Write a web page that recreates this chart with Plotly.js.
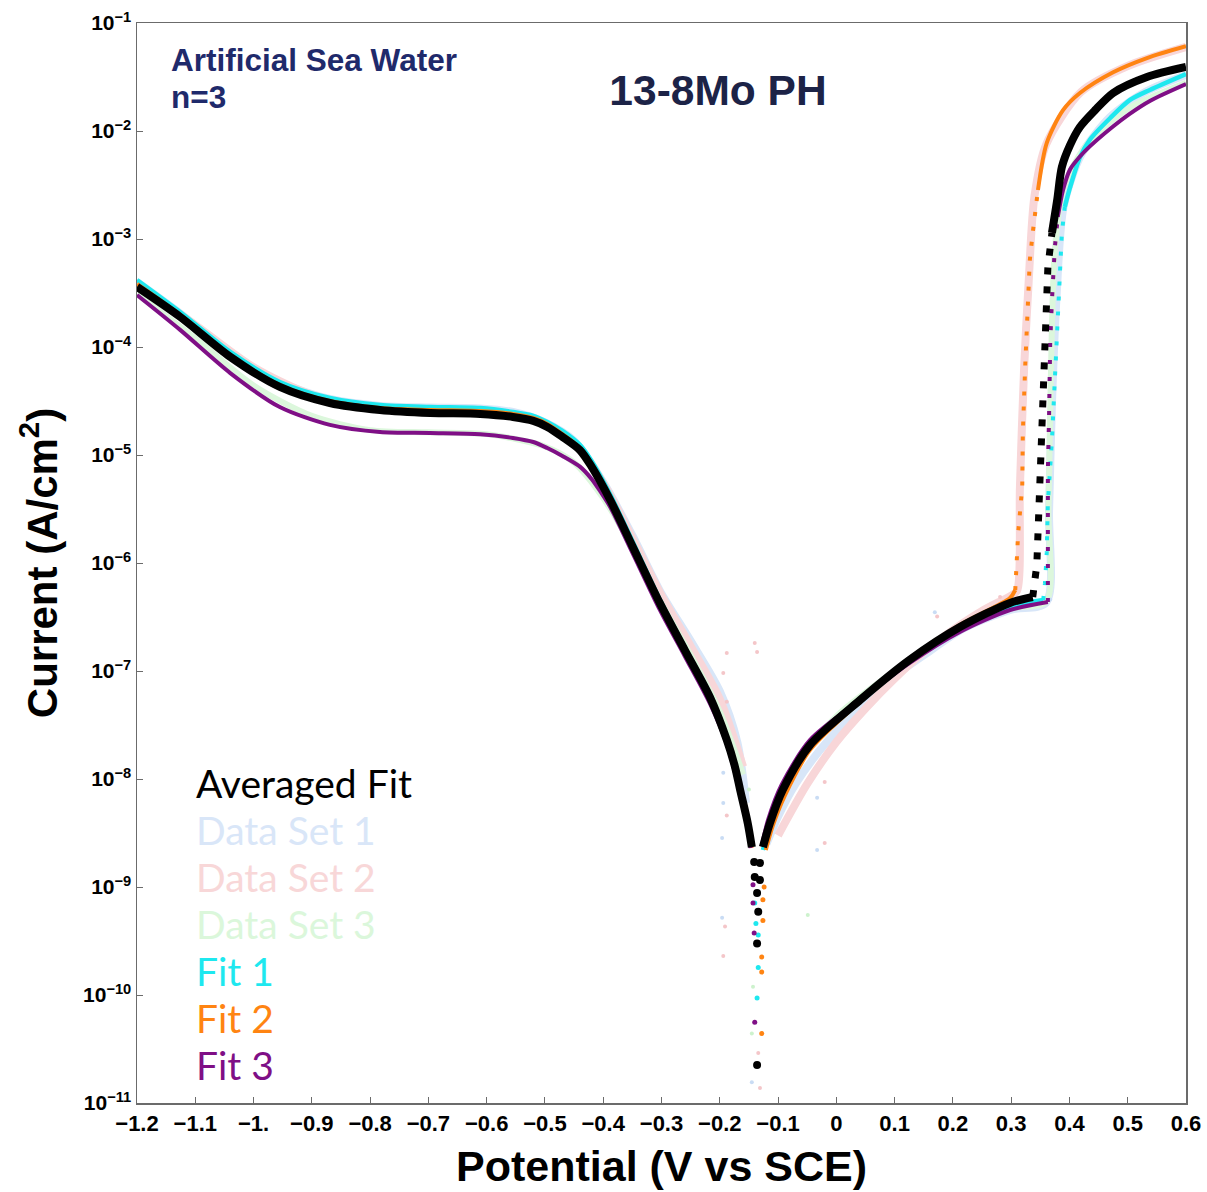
<!DOCTYPE html>
<html>
<head>
<meta charset="utf-8">
<script src="https://cdn.plot.ly/plotly-3.0.1.min.js"></script>
<style>html,body{margin:0;padding:0;background:#fff;}#chart{width:1207px;height:1192px;}</style>
</head>
<body>
<div id="chart"></div>
<script>
// ---------- axis ticks ----------
const xTickVals = [-1.2,-1.1,-1.0,-0.9,-0.8,-0.7,-0.6,-0.5,-0.4,-0.3,-0.2,-0.1,0,0.1,0.2,0.3,0.4,0.5,0.6];
const xTickText = ['\u22121.2','\u22121.1','\u22121.','\u22120.9','\u22120.8','\u22120.7','\u22120.6','\u22120.5','\u22120.4','\u22120.3','\u22120.2','\u22120.1','0','0.1','0.2','0.3','0.4','0.5','0.6'];
const yTickVals = [1e-11,1e-10,1e-9,1e-8,1e-7,1e-6,1e-5,1e-4,1e-3,1e-2,1e-1];
const yTickText = ['10<sup>\u221211</sup>','10<sup>\u221210</sup>','10<sup>\u22129</sup>','10<sup>\u22128</sup>','10<sup>\u22127</sup>','10<sup>\u22126</sup>','10<sup>\u22125</sup>','10<sup>\u22124</sup>','10<sup>\u22123</sup>','10<sup>\u22122</sup>','10<sup>\u22121</sup>'];

// ---------- Data sets (faint) ----------
const ds1E = [-1.2,-1.126,-1.04,-0.955,-0.869,-0.783,-0.697,-0.611,-0.555,-0.5,-0.45,-0.4,-0.35,-0.3,-0.25,-0.2,-0.17,-0.155,null,-0.12,-0.1,-0.07,-0.03,0.02,0.08,0.15,0.22,0.3,0.36,0.365,0.37,0.378,0.39,0.42,0.47,0.53,0.6];
const ds1I = [4.0e-4,2.05e-4,8.8e-5,4.7e-5,3.3e-5,2.85e-5,2.75e-5,2.7e-5,2.5e-5,2.0e-5,1.35e-5,5.6e-6,1.8e-6,5.2e-7,1.9e-7,6.5e-8,2.2e-8,6.0e-9,null,2.5e-9,4.5e-9,9.0e-9,1.8e-8,3.6e-8,7.5e-8,1.4e-7,2.5e-7,3.7e-7,4.3e-7,3e-6,3e-5,3e-4,2.0e-3,6.0e-3,1.35e-2,2.3e-2,3.3e-2];
const ds2E = [-1.2,-1.1,-1.0,-0.9,-0.8,-0.7,-0.6,-0.55,-0.5,-0.45,-0.4,-0.35,-0.3,-0.25,-0.2,-0.16,null,-0.1,-0.05,0.0,0.05,0.1,0.15,0.2,0.25,0.3,0.31,0.315,0.322,0.33,0.34,0.36,0.42,0.5,0.6];
const ds2I = [3.8e-4,1.6e-4,6.5e-5,3.6e-5,2.8e-5,2.6e-5,2.5e-5,2.3e-5,1.9e-5,1.3e-5,5.5e-6,1.7e-6,5.0e-7,1.7e-7,5.5e-8,1.3e-8,null,3.0e-9,9.0e-9,2.2e-8,4.5e-8,8.5e-8,1.5e-7,2.4e-7,3.6e-7,5.0e-7,5.5e-7,5e-6,6e-5,4e-4,2.5e-3,7.5e-3,2.3e-2,4.0e-2,6.0e-2];
const ds3E = [-1.2,-1.1,-1.0,-0.9,-0.8,-0.7,-0.6,-0.5,-0.45,-0.4,-0.35,-0.3,-0.25,-0.2,-0.16,null,-0.11,-0.06,0.0,0.1,0.2,0.3,0.36,0.364,0.368,0.375,0.39,0.43,0.5,0.6];
const ds3I = [3.1e-4,1.2e-4,4.4e-5,2.3e-5,1.7e-5,1.62e-5,1.56e-5,1.2e-5,8.5e-6,4.0e-6,1.4e-6,4.2e-7,1.4e-7,4.2e-8,1.1e-8,null,4.5e-9,1.6e-8,3.8e-8,1.0e-7,2.3e-7,3.8e-7,4.4e-7,3e-6,5e-5,8e-4,3e-3,7.5e-3,1.6e-2,2.8e-2];
// scattered noisy points of the data sets
const ds1NoiseE = [-0.194,-0.194,-0.196,-0.196,-0.033,-0.033,-0.145,0.169,0.367];
const ds1NoiseI = [1.14e-8,6.0e-9,2.85e-9,5.2e-10,6.7e-9,2.2e-9,1.56e-11,3.5e-7,4.6e-7];
const ds2NoiseE = [-0.188,-0.191,-0.194,-0.131,-0.020,-0.020,-0.134,-0.188,-0.140,-0.136,-0.194,-0.188,0.173,0.281];
const ds2NoiseI = [4.6e-9,4.3e-10,2.3e-10,1.38e-11,9.4e-9,2.55e-9,2.9e-11,1.47e-7,1.82e-7,1.5e-7,9.6e-8,5.2e-8,3.2e-7,4.84e-7];
const ds3NoiseE = [-0.143,-0.145,-0.049,-0.15,-0.2];
const ds3NoiseI = [1.19e-10,4.4e-11,5.5e-10,8e-9,3e-8];

// ---------- Fit 1 (cyan) ----------
const fit1E = [-1.2,-1.126,-1.04,-0.955,-0.869,-0.783,-0.697,-0.611,-0.555,-0.52,-0.496,-0.47,-0.44,-0.42,-0.388,-0.35,-0.303,-0.26,-0.217,-0.188,-0.174,-0.165,-0.152,-0.145,null,-0.126,-0.114,-0.092,-0.045,0.041,0.126,0.212,0.298,0.355,null,0.392,0.401,0.418,0.435,0.47,0.504,0.538,0.6];
const fit1I = [4.17e-4,2.11e-4,9.0e-5,4.74e-5,3.37e-5,2.9e-5,2.78e-5,2.72e-5,2.5e-5,2.3e-5,2.02e-5,1.67e-5,1.24e-5,8.8e-6,4.3e-6,1.6e-6,4.6e-7,1.65e-7,6.0e-8,2.4e-8,1.35e-8,8.2e-9,4.0e-9,2.4e-9,null,2.2e-9,3.7e-9,7.4e-9,1.94e-8,5.2e-8,1.22e-7,2.4e-7,3.92e-7,4.54e-7,null,1.98e-3,3.0e-3,5.7e-3,8.3e-3,1.32e-2,1.94e-2,2.4e-2,3.37e-2];
const fit1RiseE = [0.355,0.358,0.361,0.363,0.370,0.375,0.379,0.387,0.392];
const fit1RiseI = [4.54e-7,6.5e-7,1.24e-6,3.6e-6,1.38e-5,5.3e-5,1.78e-4,1.14e-3,1.98e-3];
const fit1TipE = [-0.140,-0.138,-0.134,-0.134,-0.136];
const fit1TipI = [7.1e-10,4.6e-10,3.6e-10,1.8e-10,9.4e-11];

// ---------- Fit 2 (orange) ----------
const fit2E = [-1.2,-1.126,-1.04,-0.955,-0.869,-0.783,-0.697,-0.611,-0.555,-0.52,-0.496,-0.47,-0.44,-0.42,-0.388,-0.35,-0.303,-0.26,-0.217,-0.188,-0.174,-0.165,-0.152,-0.145,null,-0.121,-0.109,-0.088,-0.045,0.041,0.126,0.212,0.298,0.307,null,0.346,0.361,0.389,0.418,0.475,0.533,0.6];
const fit2I = [3.83e-4,1.98e-4,8.4e-5,4.45e-5,3.16e-5,2.72e-5,2.61e-5,2.55e-5,2.4e-5,2.2e-5,1.94e-5,1.56e-5,1.16e-5,8.2e-6,4.0e-6,1.5e-6,4.4e-7,1.6e-7,5.8e-8,2.35e-8,1.3e-8,7.9e-9,3.8e-9,2.3e-9,null,2.2e-9,3.7e-9,7.1e-9,1.86e-8,5.2e-8,1.27e-7,2.67e-7,4.74e-7,5.6e-7,null,2.84e-3,7.74e-3,1.56e-2,2.25e-2,3.5e-2,4.74e-2,6.1e-2];
const fit2RiseE = [0.307,0.312,0.319,0.320,0.324,0.329,0.332,0.337,0.346];
const fit2RiseI = [5.6e-7,1.9e-6,5.06e-6,1.6e-5,6.5e-5,2.55e-4,6.4e-4,1.14e-3,2.84e-3];
const fit2TipE = [-0.124,-0.126,-0.126,-0.128,-0.128,-0.128];
const fit2TipI = [1.0e-9,7.6e-10,4.9e-10,2.25e-10,1.63e-10,4.4e-11];

// ---------- Fit 3 (purple) ----------
const fit3E = [-1.2,-1.126,-1.04,-0.955,-0.869,-0.783,-0.697,-0.611,-0.555,-0.52,-0.496,-0.47,-0.44,-0.42,-0.405,-0.388,-0.35,-0.303,-0.26,-0.217,-0.188,-0.174,-0.165,-0.152,-0.147,null,-0.128,-0.117,-0.094,-0.045,0.041,0.126,0.212,0.298,0.363,null,0.380,0.389,0.401,0.418,0.435,0.470,0.504,0.538,0.6];
const fit3I = [3.03e-4,1.44e-4,5.74e-5,2.78e-5,1.9e-5,1.63e-5,1.6e-5,1.56e-5,1.44e-5,1.32e-5,1.16e-5,9.8e-6,7.8e-6,6.0e-6,4.6e-6,3.3e-6,1.25e-6,3.7e-7,1.37e-7,5.0e-8,2.1e-8,1.15e-8,7.1e-9,3.5e-9,2.3e-9,null,2.4e-9,4.2e-9,8.8e-9,2.3e-8,5.4e-8,1.19e-7,2.3e-7,3.67e-7,4.35e-7,null,1.6e-3,2.84e-3,4.4e-3,5.8e-3,7.2e-3,1.05e-2,1.45e-2,1.9e-2,2.72e-2];
const fit3RiseE = [0.363,0.363,0.363,0.363,0.365,0.367,0.370,0.375,0.380];
const fit3RiseI = [4.35e-7,1.0e-6,2.5e-6,7.3e-6,2.25e-5,1.11e-4,2.72e-4,8.4e-4,1.6e-3];
const fit3TipE = [-0.143,-0.143,-0.141,-0.140];
const fit3TipI = [1.05e-9,7.1e-10,3.75e-10,5.6e-11];

// ---------- Averaged fit (black) ----------
const avgE = [-1.2,-1.126,-1.04,-0.955,-0.869,-0.783,-0.697,-0.611,-0.555,-0.52,-0.496,-0.47,-0.44,-0.42,-0.388,-0.35,-0.303,-0.26,-0.217,-0.188,-0.174,-0.165,-0.152,-0.145,null,-0.126,-0.114,-0.092,-0.045,0.041,0.126,0.212,0.298,0.337,null,0.370,0.379,0.387,0.401,0.418,0.444,0.475,0.533,0.6];
const avgI = [3.6e-4,1.9e-4,8.1e-5,4.27e-5,3.03e-5,2.61e-5,2.45e-5,2.4e-5,2.25e-5,2.07e-5,1.82e-5,1.47e-5,1.11e-5,7.8e-6,3.83e-6,1.44e-6,4.27e-7,1.56e-7,5.74e-8,2.3e-8,1.3e-8,7.9e-9,3.9e-9,2.34e-9,null,2.34e-9,3.9e-9,7.9e-9,2.07e-8,5.4e-8,1.27e-7,2.55e-7,4.27e-7,4.84e-7,null,1.14e-3,2.3e-3,4.64e-3,7.4e-3,1.09e-2,1.56e-2,2.25e-2,3.16e-2,3.92e-2];
const avgRiseE = [0.337,0.344,0.349,0.353,0.355,0.358,0.363,0.370];
const avgRiseI = [4.84e-7,9.6e-7,5.06e-6,1.9e-5,6.5e-5,2.55e-4,5.5e-4,1.14e-3];
const avgTipE = [-0.141,-0.140,-0.136,-0.134,-0.136,-0.136,-0.131,-0.131];
const avgTipI = [1.7e-9,1.24e-9,8.8e-10,5.9e-10,3.0e-10,2.25e-11,1.67e-9,1.16e-9];

// ---------- legend labels ----------
const legendNames = ['Averaged Fit','Data Set 1','Data Set 2','Data Set 3','Fit 1','Fit 2','Fit 3'];
const legendColors = ['#000000','#d9e6f8','#f8d7d8','#dbf7db','#1ee8ef','#ff8412','#7f0f86'];

// ---------- build traces ----------
const traces = [];
function solid(E, I, color, width, name){
  traces.push({x:E, y:I, type:'scatter', mode:'lines', name:name, connectgaps:false,
    line:{color:color, width:width, shape:'spline', smoothing:0.8}, hoverinfo:'skip'});
}
function dotted(E, I, color, width, dash, name){
  traces.push({x:E, y:I, type:'scatter', mode:'lines', name:name,
    line:{color:color, width:width, dash:dash}, hoverinfo:'skip'});
}
function marks(E, I, color, size, name){
  traces.push({x:E, y:I, type:'scatter', mode:'markers', name:name,
    marker:{color:color, size:size, line:{width:0}}, hoverinfo:'skip'});
}
// data sets
solid(ds1E, ds1I, '#d8e6f8', 8, 'Data Set 1');
solid(ds2E, ds2I, '#f8d6d8', 8, 'Data Set 2');
solid(ds3E, ds3I, '#dcf7dc', 6, 'Data Set 3');
marks(ds1NoiseE, ds1NoiseI, '#c9dcf4', 4, 'Data Set 1');
marks(ds2NoiseE, ds2NoiseI, '#f4c6c9', 4, 'Data Set 2');
marks(ds3NoiseE, ds3NoiseI, '#cdf2cd', 4, 'Data Set 3');
// fits
solid(fit1E, fit1I, '#1ee8ef', 4.5, 'Fit 1');
dotted(fit1RiseE, fit1RiseI, '#1ee8ef', 4, '4px,11px', 'Fit 1');
marks(fit1TipE, fit1TipI, '#1ee8ef', 5, 'Fit 1');
solid(fit2E, fit2I, '#ff8412', 4, 'Fit 2');
dotted(fit2RiseE, fit2RiseI, '#ff8412', 4, '4px,11px', 'Fit 2');
marks(fit2TipE, fit2TipI, '#ff8412', 5, 'Fit 2');
solid(fit3E, fit3I, '#7f0f86', 4, 'Fit 3');
dotted(fit3RiseE, fit3RiseI, '#7f0f86', 4, '4px,13px', 'Fit 3');
marks(fit3TipE, fit3TipI, '#7f0f86', 5, 'Fit 3');
solid(avgE, avgI, '#000000', 8, 'Averaged Fit');
dotted(avgRiseE, avgRiseI, '#000000', 7, '7px,12px', 'Averaged Fit');
marks(avgTipE, avgTipI, '#000000', 8, 'Averaged Fit');

// ---------- annotations ----------
const annotations = [];
legendNames.forEach((n, i) => {
  annotations.push({text:n, xref:'paper', yref:'paper', x:0.0545, y:0.2962 - i*0.0435,
    xanchor:'left', yanchor:'middle', showarrow:false,
    font:{family:'Lato, "Open Sans", sans-serif', size:39, color:legendColors[i]}});
});
const noteFont = {family:'"Liberation Sans", Arial, sans-serif', size:31.5, color:'#1f2a6b', weight:'bold'};
annotations.push({text:'Artificial Sea Water', xref:'paper', yref:'paper',
  x:0.0305, y:(1103-60)/1080, xanchor:'left', yanchor:'middle', showarrow:false, font:noteFont});
annotations.push({text:'n=3', xref:'paper', yref:'paper',
  x:0.0305, y:(1103-97)/1080, xanchor:'left', yanchor:'middle', showarrow:false, font:noteFont});

const axisFont = {family:'"Liberation Sans", Arial, sans-serif', color:'#000', weight:'bold'};
const layout = {
  width:1207, height:1192,
  paper_bgcolor:'#fff', plot_bgcolor:'#fff',
  margin:{l:137, r:21, t:23, b:89},
  showlegend:false,
  title:{text:'13-8Mo PH', x:718/1207, y:1-90/1192, xanchor:'center', yanchor:'middle',
    font:{family:'"Liberation Sans", Arial, sans-serif', size:42.5, color:'#1c2347', weight:'bold'}},
  xaxis:{range:[-1.2,0.6], tickvals:xTickVals, ticktext:xTickText,
    showgrid:false, zeroline:false, showline:true, mirror:true, linecolor:'#6b6b6b', linewidth:1.5,
    ticks:'inside', ticklen:6, tickcolor:'#6b6b6b', tickwidth:1,
    tickfont:Object.assign({size:22}, axisFont),
    title:{text:'Potential (V vs SCE)', standoff:16, font:Object.assign({size:43}, axisFont)},
    automargin:false},
  yaxis:{type:'log', range:[-11,-1], tickvals:yTickVals, ticktext:yTickText,
    showgrid:false, zeroline:false, showline:true, mirror:true, linecolor:'#6b6b6b', linewidth:1.5,
    ticks:'inside', ticklen:6, tickcolor:'#6b6b6b', tickwidth:1,
    tickfont:Object.assign({size:21}, axisFont),
    title:{text:'Current (A/cm<sup>2</sup>)', standoff:12, font:Object.assign({size:42}, axisFont)},
    automargin:false},
  annotations:annotations
};
Plotly.newPlot('chart', traces, layout, {staticPlot:true, displayModeBar:false});
</script>
</body>
</html>
